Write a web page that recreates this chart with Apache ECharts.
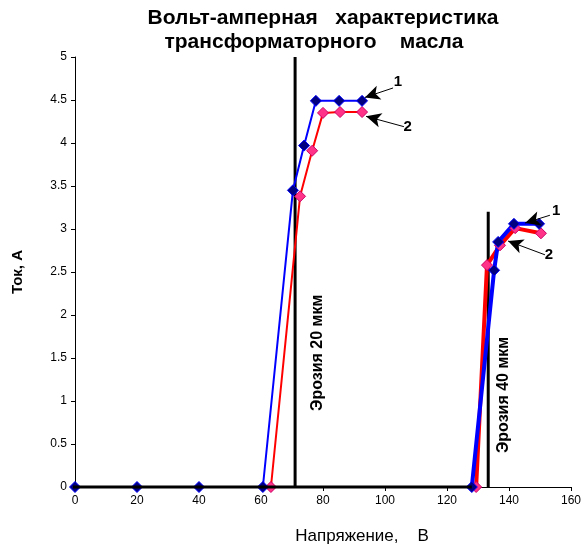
<!DOCTYPE html>
<html><head><meta charset="utf-8">
<script src="https://cdn.jsdelivr.net/npm/echarts@6/dist/echarts.min.js"></script>
<style>html,body{margin:0;padding:0;background:#fff}#c{width:586px;height:547px}</style>
</head><body><div id="c"></div>
<script>
// --- data ---
var xTicks = [0, 20, 40, 60, 80, 100, 120, 140, 160];
var yTicks = [0, 0.5, 1, 1.5, 2, 2.5, 3, 3.5, 4, 4.5, 5];
// curve 1 (blue), first sample
var blue1X = [0, 20, 40, 60.6, 70.3, 73.9, 77.7, 85.2, 92.6];
var blue1Y = [0, 0, 0, 0, 3.45, 3.97, 4.49, 4.49, 4.49];
// curve 2 (red), first sample
var red1X = [63.2, 72.6, 76.5, 80.0, 85.5, 92.6];
var red1Y = [0, 3.38, 3.91, 4.35, 4.36, 4.36];
// curve 1 (blue), second sample
var blue2X = [128.0, 135.2, 136.5, 141.6, 149.7];
var blue2Y = [0, 2.52, 2.85, 3.06, 3.06];
// curve 2 (red), second sample
var red2X = [129.4, 132.9, 137.1, 142.0, 150.3];
var red2Y = [0, 2.58, 2.81, 3.01, 2.95];
// zero baseline and erosion markers
var baseX = [-7, 128];
var erosion20X = 71.0, erosion20Top = 5;
var erosion40X = 133.3, erosion40Top = 3.2;
var erosionLabels = ["Эрозия 20 мкм", "Эрозия 40 мкм"];
var erosionLabelPos = [[78.4, 1.56], [138.4, 1.07]];
// arrows: [startX, startY, endX, endY, label, labelX, labelY]
var arrows = [
  [102.6, 4.64, 93.5, 4.53, "1", 104.2, 4.71],
  [106.1, 4.19, 93.9, 4.31, "2", 107.3, 4.19],
  [153.2, 3.16, 145.2, 3.07, "1", 155.2, 3.21],
  [151.6, 2.70, 139.7, 2.86, "2", 152.9, 2.70]
];
var titleLines = ["Вольт-амперная   характеристика", "трансформаторного    масла"];
var xName = "Напряжение,    В";
var yName = "Ток, А";

function zip(xs, ys) { return xs.map(function (x, i) { return [x, ys[i]]; }); }

var FONT = 'Liberation Sans';
var chart = echarts.init(document.getElementById('c'));

var blueSym = { color: '#000080', borderColor: '#0000ff', borderWidth: 1 };
var redSym = { color: '#ff3388', borderColor: '#cc0066', borderWidth: 1 };

function curve(name, data, color, width, item) {
  return {
    type: 'line', name: name, data: data, symbol: 'diamond', symbolSize: 11,
    lineStyle: { color: color, width: width }, itemStyle: item,
    animation: false, z: 4
  };
}

var series = [
  curve('2', zip(red1X, red1Y), '#ff0000', 2, redSym),
  curve('2', zip(red2X, red2Y), '#ff0000', 4, redSym),
  curve('1', zip(blue1X, blue1Y), '#0000ff', 2, blueSym),
  curve('1', zip(blue2X, blue2Y), '#0000ff', 4, blueSym),
  {
    type: 'line', data: zip(baseX, [0, 0]), symbol: 'none', clip: false,
    lineStyle: { color: '#000', width: 3 }, animation: false, z: 5
  },
  {
    type: 'line', data: [[erosion20X, 0], [erosion20X, erosion20Top]], symbol: 'none',
    lineStyle: { color: '#000', width: 3 }, animation: false, z: 3
  },
  {
    type: 'line', data: [[erosion40X, 0], [erosion40X, erosion40Top]], symbol: 'none',
    lineStyle: { color: '#000', width: 3 }, animation: false, z: 3
  },
  {
    type: 'line', data: [], symbol: 'none', animation: false, z: 6,
    markLine: {
      silent: true, animation: false,
      symbol: ['none', 'arrow'], symbolSize: 12,
      lineStyle: { color: '#000', width: 1, type: 'solid' },
      label: { show: false },
      data: arrows.map(function (a) {
        return [{ coord: [a[0], a[1]], symbol: 'none' },
                { coord: [a[2], a[3]], symbol: 'arrow', symbolSize: [11, 15] }];
      })
    },
    markPoint: {
      silent: true, animation: false, symbol: 'circle', symbolSize: 0,
      data: arrows.map(function (a) {
        return { coord: [a[5], a[6]], label: { show: true, formatter: a[4], position: 'inside',
          color: '#000', fontFamily: FONT, fontWeight: 'bold', fontSize: 15 } };
      }).concat(erosionLabels.map(function (t, i) {
        return { coord: erosionLabelPos[i], label: { show: true, formatter: t, position: 'inside', rotate: 90,
          color: '#000', fontFamily: FONT, fontWeight: 'bold', fontSize: 16 } };
      }))
    }
  }
];

chart.setOption({
  animation: false,
  backgroundColor: '#fff',
  grid: { left: 75, right: 15, top: 57, bottom: 60, containLabel: false },
  xAxis: {
    type: 'value', min: 0, max: 160, interval: 20,
    axisLine: { lineStyle: { color: '#000', width: 1 } },
    axisTick: { show: true, length: 4, lineStyle: { color: '#000' } },
    axisLabel: { color: '#000', fontFamily: FONT, fontSize: 12, margin: 8,
      formatter: function (v) { return xTicks.indexOf(v) >= 0 ? String(v) : ''; } },
    splitLine: { show: false }
  },
  yAxis: {
    type: 'value', min: 0, max: 5, interval: 0.5,
    name: yName, nameLocation: 'middle', nameGap: 50, nameRotate: 90,
    nameTextStyle: { color: '#000', fontFamily: FONT, fontWeight: 'bold', fontSize: 15 },
    axisLine: { show: true, lineStyle: { color: '#000', width: 1 } },
    axisTick: { show: true, length: 4, lineStyle: { color: '#000' } },
    axisLabel: { color: '#000', fontFamily: FONT, fontSize: 12, margin: 8,
      formatter: function (v) { return yTicks.indexOf(v) >= 0 ? String(v) : ''; } },
    splitLine: { show: false }
  },
  graphic: [
    { type: 'text', x: 323, y: 18, style: { text: titleLines[0], align: 'center', verticalAlign: 'middle',
      fill: '#000', font: 'bold 21px "' + FONT + '"' } },
    { type: 'text', x: 314, y: 42, style: { text: titleLines[1], align: 'center', verticalAlign: 'middle',
      fill: '#000', font: 'bold 21px "' + FONT + '"' } },
    { type: 'text', x: 362, y: 536, style: { text: xName, align: 'center', verticalAlign: 'middle',
      fill: '#000', font: '17px "' + FONT + '"' } }
  ],
  series: series
});
</script></body></html>
